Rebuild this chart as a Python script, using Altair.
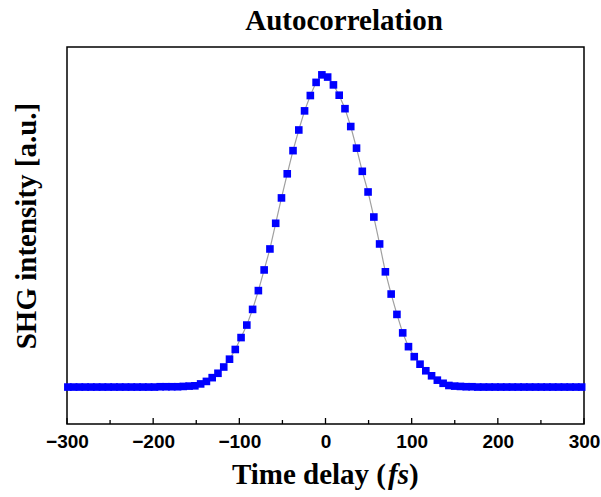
import altair as alt
import pandas as pd

# Time delay (fs) of each sample
delay_fs = [
    -299.0, -292.3, -285.6, -278.9, -272.2, -265.5, -258.8, -252.1, -245.4, -238.7,
    -232.0, -225.3, -218.6, -211.9, -205.2, -198.5, -191.8, -185.1, -178.4, -171.7,
    -165.0, -158.3, -151.6, -144.9, -138.2, -131.5, -124.8, -118.1, -111.4, -104.7,
    -98.0, -91.3, -84.6, -77.9, -71.2, -64.5, -57.8, -51.1, -44.4, -37.7,
    -31.0, -24.3, -17.6, -10.9, -4.2, 2.5, 9.2, 15.9, 22.6, 29.3,
    36.0, 42.7, 49.4, 56.1, 62.8, 69.5, 76.2, 82.9, 89.6, 96.3,
    103.0, 109.7, 116.4, 123.1, 129.8, 136.5, 143.2, 149.9, 156.6, 163.3,
    170.0, 176.7, 183.4, 190.1, 196.8, 203.5, 210.2, 216.9, 223.6, 230.3,
    237.0, 243.7, 250.4, 257.1, 263.8, 270.5, 277.2, 283.9, 290.6, 297.3,
]
# SHG intensity (a.u., baseline = 0, peak ~ 1)
shg = [
    0.000, 0.000, 0.000, 0.000, 0.000, 0.000, 0.000, 0.000, 0.000, 0.000,
    0.000, 0.000, 0.000, 0.000, 0.000, 0.000, 0.001, 0.001, 0.001, 0.001,
    0.002, 0.003, 0.004, 0.010, 0.018, 0.030, 0.044, 0.064, 0.089, 0.120,
    0.158, 0.198, 0.248, 0.308, 0.374, 0.441, 0.523, 0.604, 0.681, 0.755,
    0.821, 0.882, 0.931, 0.973, 0.997, 0.990, 0.965, 0.932, 0.889, 0.832,
    0.763, 0.689, 0.623, 0.543, 0.457, 0.368, 0.297, 0.232, 0.173, 0.129,
    0.097, 0.073, 0.052, 0.036, 0.022, 0.012, 0.005, 0.003, 0.002, 0.001,
    0.001, 0.000, 0.000, 0.000, 0.000, 0.000, 0.000, 0.000, 0.000, 0.000,
    0.000, 0.000, 0.000, 0.000, 0.000, 0.000, 0.000, 0.000, 0.000, 0.000,
]
major_ticks = [-300, -200, -100, 0, 100, 200, 300]
minor_ticks = [-250, -150, -50, 50, 150, 250]

W, H = 517, 377
df = pd.DataFrame({"t": delay_fs, "v": shg})

xs = alt.Scale(domain=[-300, 300], nice=False, zero=False)
ys = alt.Scale(domain=[-0.118, 1.086], nice=False, zero=False)

base = alt.Chart(df)
line = base.mark_line(color="#a0a0a0", strokeWidth=1.2).encode(
    x=alt.X("t:Q", scale=xs,
            axis=alt.Axis(values=major_ticks, ticks=False, domain=False, grid=False,
                          labelFont="Liberation Sans", labelFontWeight="bold",
                          labelFontSize=19, labelColor="black", labelPadding=8,
                          title=None, labelFlush=False)),
    y=alt.Y("v:Q", scale=ys, axis=None),
)
points = base.mark_point(shape="square", filled=True, color="#0000ff",
                         size=58, opacity=1).encode(
    x=alt.X("t:Q", scale=xs), y=alt.Y("v:Q", scale=ys))

maj = alt.Chart(pd.DataFrame({"t": major_ticks})).mark_rule(
    color="black", strokeWidth=1.3).encode(
    x=alt.X("t:Q", scale=xs), y=alt.value(H), y2=alt.value(H - 6))
mnr = alt.Chart(pd.DataFrame({"t": minor_ticks})).mark_rule(
    color="black", strokeWidth=1.3).encode(
    x=alt.X("t:Q", scale=xs), y=alt.value(H), y2=alt.value(H - 4))

serif = "Liberation Serif"
one = pd.DataFrame({"a": [0]})
title = alt.Chart(one).mark_text(
    text="Autocorrelation", font=serif, fontWeight="bold", fontSize=29,
    baseline="alphabetic", align="center", color="black").encode(
    x=alt.value(277), y=alt.value(-17))
ytitle = alt.Chart(one).mark_text(
    text="SHG intensity [a.u.]", font=serif, fontWeight="bold", fontSize=29,
    baseline="middle", align="center", angle=270, color="black").encode(
    x=alt.value(-40), y=alt.value(179))
xt1 = alt.Chart(one).mark_text(
    text="Time delay (", font=serif, fontWeight="bold", fontSize=29,
    baseline="alphabetic", align="right", color="black").encode(
    x=alt.value(319), y=alt.value(437))
xt2 = alt.Chart(one).mark_text(
    text="fs", font=serif, fontWeight="bold", fontStyle="italic", fontSize=29,
    baseline="alphabetic", align="left", color="black").encode(
    x=alt.value(321), y=alt.value(437))
xt3 = alt.Chart(one).mark_text(
    text=")", font=serif, fontWeight="bold", fontSize=29,
    baseline="alphabetic", align="left", color="black").encode(
    x=alt.value(342), y=alt.value(437))

chart = alt.layer(line, points, maj, mnr, title, ytitle, xt1, xt2, xt3).properties(
    width=W, height=H,
    autosize=alt.AutoSizeParams(type="none"),
    padding={"left": 67, "top": 47, "right": 17, "bottom": 73},
    background="white",
).configure_view(stroke="black", strokeWidth=1.5)

chart.save("out.html", embed_options={"renderer": "svg", "actions": False})
